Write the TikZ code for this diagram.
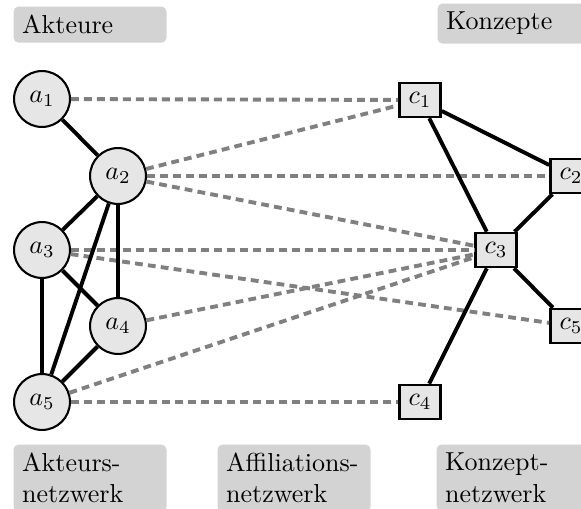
\documentclass[tikz,border=0pt]{standalone}
\usetikzlibrary{positioning}
\definecolor{nodefill}{RGB}{230,230,230}
\definecolor{labelfill}{RGB}{211,211,211}
\definecolor{dashgray}{RGB}{128,128,128}
\begin{document}
\begin{tikzpicture}[x=0.3846pt,y=-0.3846pt,
  actor/.style={circle,draw,line width=0.8pt,fill=nodefill,minimum size=21.5pt,inner sep=0pt},
  concept/.style={rectangle,draw,line width=1pt,fill=nodefill,minimum width=15.8pt,minimum height=13.1pt,inner sep=0pt},
  tie/.style={line width=1.5pt,black},
  affil/.style={line width=1.5pt,dashgray,dash pattern=on 3pt off 2pt},
  lbl/.style={fill=labelfill,rounded corners=2pt,text width=52.2pt,align=left,inner sep=3.33pt,anchor=north west}
]
\useasboundingbox (0,0) rectangle (581,509);

% label boxes
\node[lbl] (lA) at (13,6) {Akteure};
\node[lbl] (lK) at (437,3) {Konzepte};
\node[lbl] (lAN) at (13,444) {Akteurs-\\netzwerk};
\node[lbl] (lAF) at (217,444) {Affiliations-\\netzwerk};
\node[lbl] (lKN) at (436,444) {Konzept-\\netzwerk};

% actors
\node[actor] (a1) at (42,99) {$a_1$};
\node[actor] (a2) at (118,176) {$a_2$};
\node[actor] (a3) at (42,250) {$a_3$};
\node[actor] (a4) at (118,326) {$a_4$};
\node[actor] (a5) at (42,402) {$a_5$};

% concepts
\node[concept] (c1) at (420,100) {$c_1$};
\node[concept] (c2) at (571,176) {$c_2$};
\node[concept] (c3) at (496,250) {$c_3$};
\node[concept] (c5) at (571,326) {$c_5$};
\node[concept] (c4) at (420,402) {$c_4$};

% affiliation edges
\draw[affil] (a1) -- (c1);
\draw[affil] (a2) -- (c1);
\draw[affil] (a2) -- (c2);
\draw[affil] (a2) -- (c3);
\draw[affil] (a3) -- (c3);
\draw[affil] (a3) -- (c5);
\draw[affil] (a4) -- (c3);
\draw[affil] (a5) -- (c3);
\draw[affil] (a5) -- (c4);

% actor network
\draw[tie] (a1) -- (a2);
\draw[tie] (a2) -- (a3);
\draw[tie] (a2) -- (a4);
\draw[tie] (a2) -- (a5);
\draw[tie] (a3) -- (a4);
\draw[tie] (a3) -- (a5);
\draw[tie] (a4) -- (a5);

% concept network
\draw[tie] (c1) -- (c2);
\draw[tie] (c1) -- (c3);
\draw[tie] (c2) -- (c3);
\draw[tie] (c3) -- (c5);
\draw[tie] (c3) -- (c4);
\end{tikzpicture}
\end{document}
